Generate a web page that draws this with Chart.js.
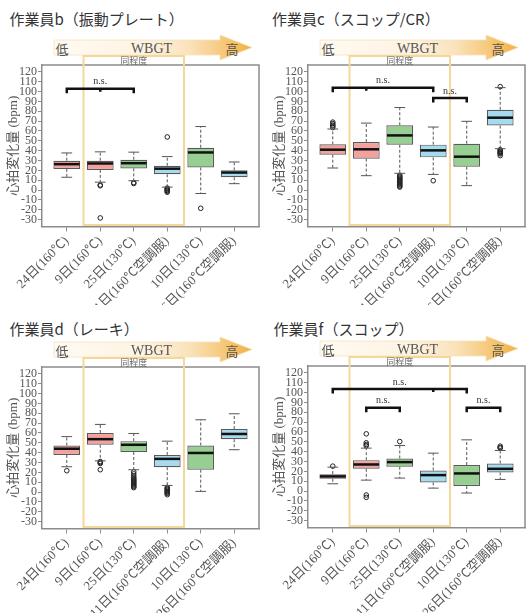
<!DOCTYPE html>
<html lang="ja">
<head>
<meta charset="utf-8">
<title>作業員別 心拍変化量</title>
<script src="https://cdn.jsdelivr.net/npm/chart.js@4.4.1/dist/chart.umd.min.js"></script>
<style>
  html, body { margin: 0; padding: 0; background: #fff; }
  body { width: 528px; height: 613px; position: relative; overflow: hidden; }
  .title { position: absolute; font-family: "Noto Sans CJK JP", sans-serif; font-size: 15px;
           line-height: 15px; color: #333; white-space: nowrap; }
  .panel { position: absolute; width: 264px; }
  .panel svg, .panel canvas { position: absolute; left: 0; top: 0; }
</style>
</head>
<body>
<div class="title" style="left:9.5px; top:11px;">作業員b（振動プレート）</div>
<div class="title" style="left:272px; top:11px;">作業員c（スコップ/CR）</div>
<div class="title" style="left:9.5px; top:321px;">作業員d（レーキ）</div>
<div class="title" style="left:273.5px; top:321px;">作業員f（スコップ）</div>

<div class="panel" id="panel-b" style="left:0px; top:0px; height:305px;"><canvas id="chart-b" width="264" height="305"></canvas></div>
<div class="panel" id="panel-c" style="left:266px; top:0px; height:305px;"><canvas id="chart-c" width="264" height="305"></canvas></div>
<div class="panel" id="panel-d" style="left:0px; top:302px; height:311px;"><canvas id="chart-d" width="264" height="311"></canvas></div>
<div class="panel" id="panel-f" style="left:265.5px; top:301px; height:312px;"><canvas id="chart-f" width="264" height="312"></canvas></div>

<script>
// ---- shared labels ----
const categories = ['24日(160℃)', '9日(160℃)', '25日(130℃)', '11日(160℃空調服)', '10日(130℃)', '26日(160℃空調服)'];
const yTicks = [-30, -20, -10, 0, 10, 20, 30, 40, 50, 60, 70, 80, 90, 100, 110, 120];
const yTitle = '心拍変化量 (bpm)';
const similarLabel = '同程度';
const similarRange = [1.5, 4.5];   // categories 2–4 sit in the "same level" band
const wbgtLabels = ['低', 'WBGT', '高'];

// ---- 作業員b ----
const bLow     = [13, 8, 9.5, 3, -3.5, 6.5];
const bQ1      = [21.5, 20.5, 22, 16, 23, 13];
const bMedian  = [26.3, 27, 27.3, 21.7, 38.2, 17.8];
const bQ3      = [29.8, 29.8, 30.8, 24.7, 43, 20];
const bHigh    = [37.7, 38.8, 38.5, 34, 64.5, 28.5];
const bOutliers = [[], [5.2, 4.4, -28.3], [6.6, 7.6], [53.9, 2, 1.2, 0.4, -0.4, -1.2, -2.2], [-18.5], []];
const bBrackets = [{ from: 1, to: 3, mid: 2, y: 103 }];

// ---- 作業員c ----
const cLow     = [22.4, 14.6, 17, 15.9, 4.5, 42];
const cQ1      = [35.9, 31.9, 46, 33.2, 23.7, 65.5];
const cMedian  = [41, 41.4, 55.5, 40.3, 33.9, 73.5];
const cQ3      = [46.4, 48.8, 65.8, 46.1, 47.1, 81.5];
const cHigh    = [62, 68, 83.8, 64, 69.8, 104];
const cOutliers = [[63.5, 65, 66, 67.5, 69], [], [15, 14, 13, 12, 11, 10, 9, 8, 7, 6, 5, 4, 3], [9.5], [],
                   [105, 41, 40, 39, 38.3, 37.6, 36.8, 35]];
const cBrackets = [{ from: 1, to: 4, mid: 2, y: 104 }, { from: 4, to: 5, y: 93.5 }];

// ---- 作業員d ----
const dLow     = [25.7, 31.7, 22.7, 6.7, 0.7, 43];
const dQ1      = [37.7, 48, 40.7, 25.3, 22.7, 53.7];
const dMedian  = [44, 53.7, 48, 33.7, 39.7, 59];
const dQ3      = [47.3, 60, 51.7, 37.7, 47.3, 64];
const dHigh    = [56.3, 68.7, 59.5, 51.7, 73.4, 79.5];
const dOutliers = [[21.7], [31, 30, 29, 22.7],
                   [20.5, 18.5, 16.5, 15, 13.5, 12.5, 11.5, 10.5, 9.5, 8.5, 7.5, 6.5, 5.5, 4.5],
                   [4.7, 3.7, 2.7, 1.7, 0.7, -0.3, -1.3, -2.7], [], []];
const dBrackets = [];

// ---- 作業員f ----
const fLow     = [7.4, 11.1, 13.2, 3, -2, 11.8];
const fQ1      = [12.5, 22.6, 24.7, 8.8, 5.1, 18.9];
const fMedian  = [14.9, 27, 29.4, 16.2, 17.9, 22.6];
const fQ3      = [17.2, 31.4, 33.1, 20.9, 26.4, 28];
const fHigh    = [24.3, 43.6, 46.3, 38.5, 52, 41.2];
const fOutliers = [[25.3], [58.1, 49, 47.3, 46, -4, -6.4], [50.3], [], [], [45.6, 44.3, 43.6]];
const fBrackets = [{ from: 1, to: 5, mid: 4, y: 103.6 }, { from: 2, to: 3, y: 84.7 }, { from: 5, to: 6, y: 84.7 }];

// ---- styling ----
const boxColors = ['#F4A19D', '#F4A19D', '#97CE92', '#A6DBEF', '#97CE92', '#A6DBEF'];
const axisGray = '#8c8c8c';
const textGray = '#555';
const serif = "'Liberation Serif', 'Noto Sans CJK JP', serif";
const PLOT_TOP = 65;
const PLOT_BOTTOM = 226.5;

// Gradient arrow (低 → WBGT → 高) above each plot
function addWbgtArrow(panel, id) {
  const ns = 'http://www.w3.org/2000/svg';
  const svg = document.createElementNS(ns, 'svg');
  svg.setAttribute('width', '264');
  svg.setAttribute('height', '64');
  svg.innerHTML =
    '<defs><linearGradient id="wbgt-' + id + '" gradientUnits="userSpaceOnUse" x1="54" y1="0" x2="252" y2="0">' +
    '<stop offset="0" stop-color="#FFFBF3"/><stop offset="0.45" stop-color="#FDF3E2"/>' +
    '<stop offset="0.68" stop-color="#FAE3BC"/><stop offset="0.85" stop-color="#F6C97C"/>' +
    '<stop offset="1" stop-color="#F2B140"/></linearGradient></defs>' +
    '<polygon points="54,40 220,40 220,35 252,47.5 220,60 220,55 54,55" fill="url(#wbgt-' + id + ')" ' +
    'stroke="#F6E2BC" stroke-width="0.8"/>' +
    '<text x="62" y="48" font-family="Noto Sans CJK JP" font-size="13" fill="#555" text-anchor="middle" dominant-baseline="central">' + wbgtLabels[0] + '</text>' +
    '<text x="151.5" y="48" font-family="Liberation Serif" font-size="14" fill="#555" text-anchor="middle" dominant-baseline="central">' + wbgtLabels[1] + '</text>' +
    '<text x="232" y="48" font-family="Noto Sans CJK JP" font-size="13" fill="#555" text-anchor="middle" dominant-baseline="central">' + wbgtLabels[2] + '</text>';
  panel.insertBefore(svg, panel.firstChild);
}

// Whiskers, medians, the 同程度 frame and n.s. brackets, all placed through the chart scales
function boxDecorations(low, median, high, brackets) {
  return {
    id: 'boxDecorations',
    beforeDraw(chart) {
      const { ctx, chartArea: a } = chart;
      ctx.save();
      ctx.strokeStyle = axisGray;
      ctx.lineWidth = 1.5;
      ctx.beginPath();
      ctx.moveTo(a.left, a.top);
      ctx.lineTo(a.right, a.top);
      ctx.lineTo(a.right, a.bottom);
      ctx.stroke();
      ctx.restore();
    },
    afterDatasetsDraw(chart) {
      const { ctx, chartArea: a, scales: { x, y } } = chart;
      const bars = chart.getDatasetMeta(0).data;
      ctx.save();
      bars.forEach((bar, i) => {
        const cx = x.getPixelForValue(i + 1);
        const w = bar.width;
        const yTop = Math.min(bar.y, bar.base);
        const yBot = Math.max(bar.y, bar.base);
        const yHi = y.getPixelForValue(high[i]);
        const yLo = y.getPixelForValue(low[i]);
        ctx.strokeStyle = '#555';
        ctx.lineWidth = 1;
        ctx.setLineDash([3, 2]);
        ctx.beginPath();
        ctx.moveTo(cx, yTop); ctx.lineTo(cx, yHi);
        ctx.moveTo(cx, yBot); ctx.lineTo(cx, yLo);
        ctx.stroke();
        ctx.setLineDash([]);
        const cap = w * 0.2;
        ctx.beginPath();
        ctx.moveTo(cx - cap, yHi); ctx.lineTo(cx + cap, yHi);
        ctx.moveTo(cx - cap, yLo); ctx.lineTo(cx + cap, yLo);
        ctx.stroke();
        const yMed = y.getPixelForValue(median[i]);
        ctx.strokeStyle = '#111';
        ctx.lineWidth = 2.5;
        ctx.beginPath();
        ctx.moveTo(cx - w / 2 + 0.6, yMed); ctx.lineTo(cx + w / 2 - 0.6, yMed);
        ctx.stroke();
      });

      // 同程度 band
      const sx1 = x.getPixelForValue(similarRange[0]);
      const sx2 = x.getPixelForValue(similarRange[1]);
      ctx.strokeStyle = '#F4D79B';
      ctx.lineWidth = 2;
      ctx.strokeRect(sx1, a.top - 9, sx2 - sx1, a.bottom - a.top + 7.5);
      ctx.fillStyle = '#666';
      ctx.font = "9px 'Noto Sans CJK JP'";
      ctx.textAlign = 'center';
      ctx.textBaseline = 'middle';
      ctx.fillText(similarLabel, (sx1 + sx2) / 2, a.top - 4.5);

      // n.s. brackets
      brackets.forEach(br => {
        const xa = x.getPixelForValue(br.from);
        const xb = x.getPixelForValue(br.to);
        const yb = y.getPixelForValue(br.y);
        ctx.strokeStyle = '#111';
        ctx.lineWidth = 2.5;
        ctx.beginPath();
        ctx.moveTo(xa, yb + 4.5); ctx.lineTo(xa, yb); ctx.lineTo(xb, yb); ctx.lineTo(xb, yb + 4.5);
        if (br.mid) { ctx.moveTo(x.getPixelForValue(br.mid), yb); ctx.lineTo(x.getPixelForValue(br.mid), yb + 3); }
        ctx.stroke();
        ctx.fillStyle = '#333';
        ctx.font = "10px 'Liberation Serif'";
        ctx.textAlign = 'center';
        ctx.textBaseline = 'bottom';
        ctx.fillText('n.s.', (xa + xb) / 2, yb - 2);
      });
      ctx.restore();
    }
  };
}

function buildChart(canvasId, low, q1, median, q3, high, outliers, brackets) {
  const canvas = document.getElementById(canvasId);
  addWbgtArrow(canvas.parentNode, canvasId);
  const boxData = categories.map((c, i) => ({ x: i + 1, y: [q1[i], q3[i]] }));
  const outlierData = outliers.flatMap((vals, i) => vals.map(v => ({ x: i + 1, y: v })));
  const xHeight = canvas.height - PLOT_BOTTOM;

  return new Chart(canvas.getContext('2d'), {
    type: 'bar',
    data: {
      datasets: [
        {
          type: 'bar',
          data: boxData,
          backgroundColor: boxColors,
          borderColor: '#5a5a5a',
          borderWidth: 1.2,
          borderSkipped: false,
          inflateAmount: 0,
          barPercentage: 0.8,
          categoryPercentage: 1
        },
        {
          type: 'scatter',
          data: outlierData,
          pointStyle: 'circle',
          pointRadius: 2.3,
          borderColor: '#222',
          borderWidth: 1,
          backgroundColor: 'rgba(0,0,0,0)'
        }
      ]
    },
    options: {
      responsive: false,
      animation: false,
      devicePixelRatio: 1,
      layout: { padding: { top: PLOT_TOP, right: 0, left: 0, bottom: 0 } },
      plugins: { legend: { display: false }, tooltip: { enabled: false } },
      scales: {
        x: {
          type: 'linear',
          min: 0.26,
          max: 6.74,
          offset: false,
          afterFit: s => { s.height = xHeight; },
          afterBuildTicks: s => { s.ticks = categories.map((c, i) => ({ value: i + 1 })); },
          grid: { display: true, drawOnChartArea: false, drawTicks: true, tickLength: 5, color: axisGray, offset: false },
          border: { display: true, color: axisGray, width: 1.5 },
          ticks: {
            autoSkip: false, minRotation: 45, maxRotation: 45, padding: 2,
            color: textGray, font: { family: serif, size: 13 },
            callback: v => categories[v - 1]
          }
        },
        y: {
          min: -37,
          max: 127,
          afterFit: s => { s.width = 42; },
          afterBuildTicks: s => { s.ticks = yTicks.map(v => ({ value: v })); },
          grid: { display: true, drawOnChartArea: false, drawTicks: true, tickLength: 4, color: axisGray },
          border: { display: true, color: axisGray, width: 1.5 },
          ticks: { autoSkip: false, padding: 1, color: textGray, font: { family: serif, size: 12 } },
          title: {
            display: true, text: yTitle, color: textGray,
            font: { family: serif, size: 13 }, padding: { top: 6, bottom: 0 }
          }
        }
      }
    },
    plugins: [boxDecorations(low, median, high, brackets)]
  });
}

buildChart('chart-b', bLow, bQ1, bMedian, bQ3, bHigh, bOutliers, bBrackets);
buildChart('chart-c', cLow, cQ1, cMedian, cQ3, cHigh, cOutliers, cBrackets);
buildChart('chart-d', dLow, dQ1, dMedian, dQ3, dHigh, dOutliers, dBrackets);
buildChart('chart-f', fLow, fQ1, fMedian, fQ3, fHigh, fOutliers, fBrackets);
</script>
</body>
</html>
